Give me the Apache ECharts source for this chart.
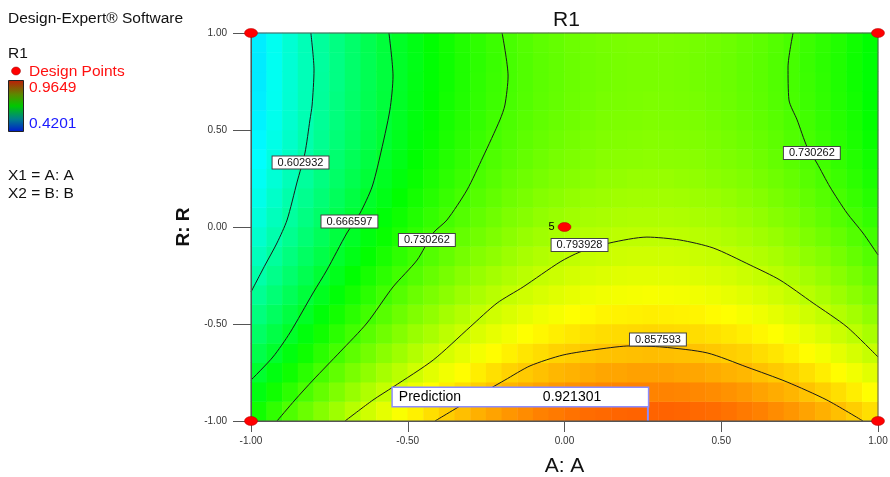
<!DOCTYPE html>
<html><head><meta charset="utf-8">
<script src="https://cdn.jsdelivr.net/npm/echarts@6/dist/echarts.min.js"></script>
<style>html,body{margin:0;padding:0;background:#fff}#c{width:890px;height:477px}</style>
</head><body><div id="c"></div>
<script>
// ---- data ----
const aCenters = [-0.975,-0.925,-0.875,-0.825,-0.775,-0.725,-0.675,-0.625,-0.575,-0.525,-0.475,-0.425,-0.375,-0.325,-0.275,-0.225,-0.175,-0.125,-0.075,-0.025,0.025,0.075,0.125,0.175,0.225,0.275,0.325,0.375,0.425,0.475,0.525,0.575,0.625,0.675,0.725,0.775,0.825,0.875,0.925,0.975];
const bCenters = [-0.95,-0.85,-0.75,-0.65,-0.55,-0.45,-0.35,-0.25,-0.15,-0.05,0.05,0.15,0.25,0.35,0.45,0.55,0.65,0.75,0.85,0.95];
// R1 surface, rows from B=-0.95 (bottom) to B=0.95 (top), columns along aCenters
const surfaceRows = [
[0.701,0.718,0.734,0.749,0.763,0.777,0.790,0.803,0.815,0.826,0.836,0.846,0.855,0.863,0.871,0.878,0.885,0.890,0.896,0.900,0.904,0.907,0.909,0.911,0.912,0.912,0.912,0.911,0.909,0.907,0.904,0.900,0.896,0.890,0.885,0.878,0.871,0.863,0.855,0.846],
[0.684,0.701,0.716,0.732,0.746,0.760,0.773,0.786,0.797,0.809,0.819,0.829,0.838,0.846,0.854,0.861,0.868,0.873,0.878,0.883,0.887,0.890,0.892,0.894,0.895,0.895,0.895,0.894,0.892,0.890,0.887,0.883,0.878,0.873,0.868,0.861,0.854,0.846,0.838,0.829],
[0.668,0.684,0.700,0.715,0.730,0.744,0.757,0.769,0.781,0.792,0.803,0.813,0.822,0.830,0.838,0.845,0.852,0.857,0.862,0.867,0.870,0.873,0.876,0.877,0.879,0.879,0.879,0.877,0.876,0.873,0.870,0.867,0.862,0.857,0.852,0.845,0.838,0.830,0.822,0.813],
[0.653,0.669,0.685,0.700,0.715,0.729,0.742,0.754,0.766,0.777,0.788,0.798,0.807,0.815,0.823,0.830,0.836,0.842,0.847,0.852,0.855,0.858,0.861,0.862,0.863,0.864,0.863,0.862,0.861,0.858,0.855,0.852,0.847,0.842,0.836,0.830,0.823,0.815,0.807,0.798],
[0.639,0.655,0.671,0.686,0.701,0.715,0.728,0.740,0.752,0.763,0.774,0.783,0.793,0.801,0.809,0.816,0.822,0.828,0.833,0.837,0.841,0.844,0.847,0.848,0.849,0.850,0.849,0.848,0.847,0.844,0.841,0.837,0.833,0.828,0.822,0.816,0.809,0.801,0.793,0.783],
[0.626,0.642,0.658,0.673,0.688,0.702,0.715,0.727,0.739,0.750,0.761,0.770,0.780,0.788,0.796,0.803,0.809,0.815,0.820,0.824,0.828,0.831,0.834,0.835,0.836,0.837,0.836,0.835,0.834,0.831,0.828,0.824,0.820,0.815,0.809,0.803,0.796,0.788,0.780,0.770],
[0.614,0.630,0.646,0.661,0.676,0.689,0.703,0.715,0.727,0.738,0.749,0.758,0.767,0.776,0.784,0.791,0.797,0.803,0.808,0.812,0.816,0.819,0.821,0.823,0.824,0.825,0.824,0.823,0.821,0.819,0.816,0.812,0.808,0.803,0.797,0.791,0.784,0.776,0.767,0.758],
[0.602,0.619,0.635,0.650,0.665,0.678,0.692,0.704,0.716,0.727,0.737,0.747,0.756,0.765,0.773,0.780,0.786,0.792,0.797,0.801,0.805,0.808,0.810,0.812,0.813,0.813,0.813,0.812,0.810,0.808,0.805,0.801,0.797,0.792,0.786,0.780,0.773,0.765,0.756,0.747],
[0.592,0.609,0.625,0.640,0.654,0.668,0.681,0.694,0.706,0.717,0.727,0.737,0.746,0.755,0.763,0.769,0.776,0.782,0.787,0.791,0.795,0.798,0.800,0.802,0.803,0.803,0.803,0.802,0.800,0.798,0.795,0.791,0.787,0.782,0.776,0.769,0.763,0.755,0.746,0.737],
[0.583,0.600,0.616,0.631,0.645,0.659,0.672,0.685,0.697,0.708,0.718,0.728,0.737,0.746,0.753,0.760,0.767,0.773,0.778,0.782,0.786,0.789,0.791,0.793,0.794,0.794,0.794,0.793,0.791,0.789,0.786,0.782,0.778,0.773,0.767,0.760,0.753,0.746,0.737,0.728],
[0.575,0.592,0.608,0.623,0.637,0.651,0.664,0.677,0.689,0.700,0.710,0.720,0.729,0.737,0.745,0.752,0.759,0.764,0.770,0.774,0.778,0.781,0.783,0.785,0.786,0.786,0.786,0.785,0.783,0.781,0.778,0.774,0.770,0.764,0.759,0.752,0.745,0.737,0.729,0.720],
[0.568,0.585,0.601,0.616,0.630,0.644,0.657,0.670,0.681,0.693,0.703,0.713,0.722,0.730,0.738,0.745,0.752,0.757,0.763,0.767,0.771,0.774,0.776,0.778,0.779,0.779,0.779,0.778,0.776,0.774,0.771,0.767,0.763,0.757,0.752,0.745,0.738,0.730,0.722,0.713],
[0.562,0.578,0.594,0.609,0.624,0.638,0.651,0.663,0.675,0.686,0.697,0.707,0.716,0.724,0.732,0.739,0.746,0.751,0.756,0.761,0.764,0.767,0.770,0.771,0.773,0.773,0.773,0.771,0.770,0.767,0.764,0.761,0.756,0.751,0.746,0.739,0.732,0.724,0.716,0.707],
[0.557,0.573,0.589,0.604,0.619,0.633,0.646,0.658,0.670,0.681,0.692,0.702,0.711,0.719,0.727,0.734,0.740,0.746,0.751,0.756,0.759,0.762,0.765,0.766,0.767,0.768,0.767,0.766,0.765,0.762,0.759,0.756,0.751,0.746,0.740,0.734,0.727,0.719,0.711,0.702],
[0.553,0.569,0.585,0.600,0.615,0.629,0.642,0.654,0.666,0.677,0.688,0.697,0.707,0.715,0.723,0.730,0.736,0.742,0.747,0.751,0.755,0.758,0.761,0.762,0.763,0.764,0.763,0.762,0.761,0.758,0.755,0.751,0.747,0.742,0.736,0.730,0.723,0.715,0.707,0.697],
[0.550,0.566,0.582,0.597,0.612,0.626,0.639,0.651,0.663,0.674,0.685,0.694,0.704,0.712,0.720,0.727,0.733,0.739,0.744,0.748,0.752,0.755,0.758,0.759,0.760,0.761,0.760,0.759,0.758,0.755,0.752,0.748,0.744,0.739,0.733,0.727,0.720,0.712,0.704,0.694],
[0.548,0.564,0.580,0.595,0.610,0.624,0.637,0.649,0.661,0.672,0.683,0.692,0.702,0.710,0.718,0.725,0.731,0.737,0.742,0.746,0.750,0.753,0.756,0.757,0.758,0.759,0.758,0.757,0.756,0.753,0.750,0.746,0.742,0.737,0.731,0.725,0.718,0.710,0.702,0.692],
[0.546,0.563,0.579,0.594,0.609,0.622,0.636,0.648,0.660,0.671,0.682,0.691,0.700,0.709,0.717,0.724,0.730,0.736,0.741,0.745,0.749,0.752,0.754,0.756,0.757,0.757,0.757,0.756,0.754,0.752,0.749,0.745,0.741,0.736,0.730,0.724,0.717,0.709,0.700,0.691],
[0.546,0.563,0.579,0.594,0.608,0.622,0.636,0.648,0.660,0.671,0.681,0.691,0.700,0.709,0.716,0.723,0.730,0.736,0.741,0.745,0.749,0.752,0.754,0.756,0.757,0.757,0.757,0.756,0.754,0.752,0.749,0.745,0.741,0.736,0.730,0.723,0.716,0.709,0.700,0.691],
[0.547,0.564,0.580,0.595,0.609,0.623,0.636,0.649,0.661,0.672,0.682,0.692,0.701,0.710,0.717,0.724,0.731,0.737,0.742,0.746,0.750,0.753,0.755,0.757,0.758,0.758,0.758,0.757,0.755,0.753,0.750,0.746,0.742,0.737,0.731,0.724,0.717,0.710,0.701,0.692]
];
// contour lines [A, B]
const contour0603 = [[-0.809,1],[-0.799,0.809],[-0.805,0.629],[-0.812,0.552],[-0.828,0.381],[-0.853,0.232],[-0.885,0.036],[-0.917,-0.082],[-0.955,-0.196],[-1,-0.335]];
const contour0667 = [[-0.560,1],[-0.547,0.778],[-0.557,0.603],[-0.589,0.361],[-0.614,0.206],[-0.652,0.072],[-0.694,-0.031],[-0.758,-0.222],[-0.802,-0.340],[-0.876,-0.546],[-0.930,-0.670],[-1,-0.789]];
const contour0730left = [[-0.199,1],[-0.180,0.778],[-0.190,0.629],[-0.206,0.552],[-0.260,0.361],[-0.311,0.191],[-0.375,0.036],[-0.419,-0.031],[-0.470,-0.170],[-0.547,-0.309],[-0.630,-0.495],[-0.716,-0.644],[-0.802,-0.789],[-0.860,-0.892],[-0.917,-1]];
const contour0730right = [[0.729,1],[0.713,0.825],[0.716,0.655],[0.742,0.552],[0.774,0.412],[0.805,0.330],[0.847,0.206],[0.901,0.072],[0.952,-0.031],[1,-0.144]];
const contour0794 = [[-0.700,-1],[-0.611,-0.892],[-0.547,-0.825],[-0.419,-0.686],[-0.301,-0.515],[-0.215,-0.392],[-0.132,-0.309],[-0.014,-0.180],[0.049,-0.129],[0.145,-0.082],[0.263,-0.052],[0.368,-0.067],[0.474,-0.108],[0.592,-0.196],[0.687,-0.273],[0.793,-0.392],[0.901,-0.515],[1,-0.670]];
const contour0858 = [[-0.413,-1],[-0.301,-0.892],[-0.190,-0.789],[-0.110,-0.716],[-0.005,-0.660],[0.113,-0.629],[0.209,-0.613],[0.314,-0.619],[0.455,-0.649],[0.582,-0.722],[0.710,-0.799],[0.837,-0.892],[0.952,-1]];
const contourLabelTexts = ['0.602932','0.666597','0.730262','0.793928','0.730262','0.857593'];
const contourLabelPoints = [[-0.842,0.332],[-0.686,0.028],[-0.439,-0.067],[0.048,-0.093],[0.789,0.381],[0.298,-0.580]];
const designPoints = [[-1,1],[1,1],[-1,-1],[1,-1],[0,0]];
const designPointTags = ['','','','','5'];
const predictionPoint = [0.266,-1];
const predictionValue = '0.921301';
const rangeMax = 0.9649, rangeMin = 0.4201;
const axisMin = -1, axisMax = 1, axisStep = 0.5;
const legendLines = ['Design-Expert® Software','R1','Design Points','X1 = A: A','X2 = B: B'];
const axisNames = ['A: A','R: R'];
const titleText = 'R1';

// ---- chart ----
const FONT = '"Liberation Sans", Arial, sans-serif';
const scaleColors = ['#0000ff','#00ffff','#00ff00','#ffff00','#ff0000'];
const heatData = [];
surfaceRows.forEach((row, r) => row.forEach((v, c) => heatData.push([c, r, v])));

const contourLine = (data) => ({
  type:'line', xAxisIndex:1, yAxisIndex:1, data, smooth:0.25, symbol:'none', silent:true,
  lineStyle:{color:'#1a1a1a', width:1}, z:3, animation:false
});

const chart = echarts.init(document.getElementById('c'));
chart.setOption({
  animation:false,
  backgroundColor:'#fff',
  title:{text:titleText, left:548, top:5, textStyle:{fontSize:21, fontWeight:'normal', color:'#111', fontFamily:FONT}},
  grid:{left:251, top:33, width:627, height:388, containLabel:false, outerBoundsMode:'none',
        show:true, z:10, backgroundColor:'transparent', borderColor:'#555', borderWidth:1},
  visualMap:{show:false, type:'continuous', min:rangeMin, max:rangeMax, seriesIndex:0, inRange:{color:scaleColors}},
  xAxis:[
    {type:'category', data:aCenters.map(String), show:false, position:'top'},
    {type:'value', min:axisMin, max:axisMax, interval:axisStep, position:'bottom', z:11,
     name:axisNames[0], nameLocation:'middle', nameGap:35,
     nameTextStyle:{fontSize:21, color:'#111', fontFamily:FONT},
     axisLine:{onZero:false, lineStyle:{color:'#555'}},
     axisTick:{length:11, lineStyle:{color:'#555'}},
     axisLabel:{fontSize:10, color:'#333', margin:15, fontFamily:FONT, formatter:v=>v.toFixed(2)},
     splitLine:{show:false}}
  ],
  yAxis:[
    {type:'category', data:bCenters.map(String), show:false, position:'right'},
    {type:'value', min:axisMin, max:axisMax, interval:axisStep, position:'left', z:11,
     name:axisNames[1], nameLocation:'middle', nameGap:52,
     nameTextStyle:{fontSize:19, fontWeight:'bold', color:'#111', fontFamily:FONT},
     axisLine:{onZero:false, lineStyle:{color:'#555'}},
     axisTick:{length:18, lineStyle:{color:'#555'}},
     axisLabel:{fontSize:10, color:'#333', margin:24, fontFamily:FONT, formatter:v=>v.toFixed(2)},
     splitLine:{show:false}}
  ],
  series:[
    {type:'heatmap', xAxisIndex:0, yAxisIndex:0, data:heatData, silent:true, z:1, itemStyle:{borderWidth:0}},
    contourLine(contour0603),
    contourLine(contour0667),
    contourLine(contour0730left),
    contourLine(contour0730right),
    contourLine(contour0794),
    contourLine(contour0858),
    {type:'scatter', xAxisIndex:1, yAxisIndex:1, silent:true, z:4, symbolSize:0.1,
     itemStyle:{color:'transparent', opacity:1},
     data:contourLabelPoints.map((p,i)=>({value:p, name:contourLabelTexts[i]})),
     label:{show:true, position:'inside', formatter:p=>p.name, fontSize:11, color:'#111', fontFamily:FONT,
            backgroundColor:'#fff', borderColor:'#444', borderWidth:1, padding:[1,5,0,5], lineHeight:11}},
    {type:'scatter', xAxisIndex:1, yAxisIndex:1, silent:true, z:6, symbol:'rect', symbolSize:[2,33], symbolOffset:[0,-16.5],
     itemStyle:{color:'#8c8cff', opacity:1}, data:[predictionPoint]},
    {type:'scatter', xAxisIndex:1, yAxisIndex:1, silent:true, z:7, symbolSize:0.1, itemStyle:{color:'transparent', opacity:1},
     data:[predictionPoint],
     label:{show:true, position:[-255,-33], formatter:'{a|Prediction}{b|' + predictionValue + '}',
            backgroundColor:'#fff', borderColor:'#8c8cff', borderWidth:1.5, padding:[1,0,1,6], width:249, lineHeight:16,
            rich:{a:{width:144, fontSize:14, color:'#000', fontFamily:FONT, lineHeight:16},
                  b:{fontSize:14, color:'#000', fontFamily:FONT, lineHeight:16}}}},
    {type:'scatter', xAxisIndex:1, yAxisIndex:1, silent:true, z:20, clip:false, symbol:'circle', symbolSize:[13,9],
     itemStyle:{color:'#ff0000', borderColor:'#b00000', borderWidth:0.5, opacity:1},
     data:designPoints.map((p,i)=>({value:p, name:designPointTags[i]})),
     label:{show:true, position:'left', distance:3, formatter:p=>p.name, fontSize:11, color:'#000', fontFamily:FONT}}
  ],
  graphic:[
    {type:'text', style:{x:8, y:19, text:legendLines[0], font:'15.5px ' + FONT, fill:'#111', verticalAlign:'middle'}},
    {type:'text', style:{x:8, y:54, text:legendLines[1], font:'15.5px ' + FONT, fill:'#111', verticalAlign:'middle'}},
    {type:'ellipse', shape:{cx:16, cy:71, rx:4.5, ry:4}, style:{fill:'#ff0000', stroke:'#900', lineWidth:0.5}},
    {type:'text', style:{x:29, y:71.5, text:legendLines[2], font:'15.5px ' + FONT, fill:'#ff1010', verticalAlign:'middle'}},
    {type:'rect', shape:{x:8.5, y:80.5, width:15, height:51},
     style:{stroke:'#222', lineWidth:1, fill:new echarts.graphic.LinearGradient(0,0,0,1,[
       {offset:0, color:'#c01a08'},{offset:0.28, color:'#5a8a00'},{offset:0.5, color:'#00c800'},
       {offset:0.75, color:'#00808a'},{offset:1, color:'#0018d0'}])}},
    {type:'text', style:{x:29, y:88, text:rangeMax.toFixed(4), font:'15.5px ' + FONT, fill:'#ff1010', verticalAlign:'middle'}},
    {type:'text', style:{x:29, y:123.5, text:rangeMin.toFixed(4), font:'15.5px ' + FONT, fill:'#1a1aff', verticalAlign:'middle'}},
    {type:'text', style:{x:8, y:176, text:legendLines[3], font:'15.5px ' + FONT, fill:'#111', verticalAlign:'middle'}},
    {type:'text', style:{x:8, y:194, text:legendLines[4], font:'15.5px ' + FONT, fill:'#111', verticalAlign:'middle'}}
  ]
});
</script></body></html>
